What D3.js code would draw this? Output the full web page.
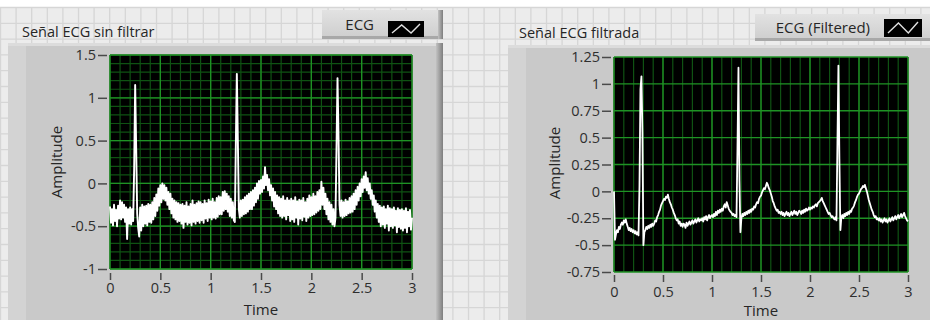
<!DOCTYPE html>
<html>
<head>
<meta charset="utf-8">
<script src="https://cdn.jsdelivr.net/npm/d3@7"></script>
<style>
  body { margin: 0; background: #fff; }
  svg { display: block; font-family: "Open Sans", sans-serif; }
</style>
</head>
<body>
<script>
const W = 930, H = 320;

// sample spacing of both waveforms (s)
const dt = 0.01;

// raw ECG, one value every 10 ms from 0 to 3 s
const rawEcg = [
  -0.27, -0.46, -0.30, -0.49, -0.25, -0.44, -0.31, -0.50, -0.26, -0.41,
  -0.20, -0.42, -0.22, -0.40, -0.25, -0.45, -0.28, -0.65, -0.30, -0.47,
  -0.28, -0.48, -0.30, -0.44, 0.17, 1.15, 0.42, -0.35, -0.52, -0.62,
  -0.28, -0.55, -0.25, -0.50, -0.27, -0.47, -0.26, -0.49, -0.24, -0.45,
  -0.25, -0.46, -0.22, -0.42, -0.17, -0.38, -0.13, -0.32, -0.06, -0.26,
  -0.02, -0.22, 0.00, -0.18, -0.02, -0.20, -0.05, -0.25, -0.10, -0.30,
  -0.12, -0.35, -0.18, -0.40, -0.20, -0.42, -0.22, -0.45, -0.23, -0.44,
  -0.25, -0.47, -0.24, -0.52, -0.26, -0.45, -0.22, -0.48, -0.27, -0.46,
  -0.24, -0.49, -0.20, -0.45, -0.25, -0.47, -0.23, -0.44, -0.21, -0.46,
  -0.22, -0.43, -0.24, -0.46, -0.20, -0.41, -0.23, -0.44, -0.19, -0.40,
  -0.21, -0.42, -0.18, -0.40, -0.22, -0.41, -0.17, -0.39, -0.15, -0.36,
  -0.16, -0.36, -0.10, -0.32, -0.09, -0.30, -0.12, -0.33, -0.15, -0.38,
  -0.18, -0.40, -0.22, -0.43, -0.45, 0.45, 1.28, 0.50, -0.30, -0.40,
  -0.20, -0.38, -0.19, -0.36, -0.16, -0.35, -0.14, -0.33, -0.12, -0.30,
  -0.10, -0.30, -0.08, -0.26, -0.05, -0.22, 0.00, -0.18, 0.03, -0.12,
  0.04, -0.10, 0.08, -0.06, 0.19, -0.02, 0.10, -0.08, 0.05, -0.14,
  -0.02, -0.20, -0.06, -0.27, -0.10, -0.30, -0.14, -0.35, -0.16, -0.38,
  -0.18, -0.40, -0.15, -0.38, -0.20, -0.42, -0.17, -0.37, -0.20, -0.44,
  -0.18, -0.42, -0.20, -0.45, -0.16, -0.40, -0.21, -0.48, -0.19, -0.41,
  -0.20, -0.43, -0.17, -0.39, -0.22, -0.44, -0.18, -0.40, -0.14, -0.38,
  -0.16, -0.37, -0.12, -0.36, -0.15, -0.34, -0.10, -0.32, -0.08, -0.30,
  0.02, -0.25, -0.05, -0.30, -0.12, -0.36, -0.18, -0.42, -0.22, -0.45,
  -0.25, -0.48, -0.30, -0.50, -0.40, 0.40, 1.23, 0.55, -0.25, -0.38,
  -0.20, -0.40, -0.22, -0.38, -0.19, -0.37, -0.21, -0.35, -0.17, -0.34,
  -0.15, -0.33, -0.12, -0.30, -0.08, -0.25, -0.04, -0.20, 0.00, -0.15,
  0.05, -0.10, 0.08, -0.05, 0.13, -0.08, 0.06, -0.12, 0.00, -0.18,
  -0.08, -0.25, -0.14, -0.33, -0.20, -0.40, -0.24, -0.45, -0.26, -0.50,
  -0.28, -0.48, -0.27, -0.52, -0.30, -0.47, -0.26, -0.55, -0.29, -0.50,
  -0.30, -0.52, -0.28, -0.49, -0.32, -0.57, -0.29, -0.51, -0.31, -0.53,
  -0.30, -0.55, -0.32, -0.52, -0.29, -0.57, -0.33, -0.50, -0.31, -0.54,
  -0.40
];

// filtered ECG, same sampling
const filteredEcg = [
  0.00, -0.45, -0.40, -0.36, -0.38, -0.33, -0.35, -0.31, -0.29, -0.31,
  -0.27, -0.29, -0.26, -0.30, -0.33, -0.36, -0.34, -0.37, -0.35, -0.38,
  -0.36, -0.39, -0.37, -0.40, -0.38, -0.41, 0.05, 0.95, 1.07, 0.55,
  -0.50, -0.38, -0.36, -0.33, -0.35, -0.32, -0.34, -0.31, -0.33, -0.30,
  -0.32, -0.30, -0.27, -0.28, -0.24, -0.22, -0.19, -0.17, -0.13, -0.11,
  -0.09, -0.07, -0.08, -0.05, -0.06, -0.03, -0.07, -0.10, -0.12, -0.15,
  -0.17, -0.20, -0.22, -0.25, -0.27, -0.26, -0.30, -0.28, -0.32, -0.30,
  -0.33, -0.30, -0.31, -0.34, -0.29, -0.32, -0.30, -0.28, -0.31, -0.29,
  -0.27, -0.30, -0.28, -0.26, -0.29, -0.27, -0.25, -0.28, -0.26, -0.27,
  -0.25, -0.28, -0.24, -0.26, -0.23, -0.27, -0.24, -0.22, -0.25, -0.23,
  -0.22, -0.24, -0.21, -0.23, -0.19, -0.22, -0.18, -0.20, -0.17, -0.19,
  -0.16, -0.18, -0.14, -0.12, -0.15, -0.10, -0.13, -0.16, -0.18, -0.19,
  -0.20, -0.22, -0.21, -0.23, -0.22, -0.24, 0.40, 1.15, 0.10, -0.38,
  -0.25, -0.21, -0.23, -0.20, -0.22, -0.19, -0.21, -0.18, -0.20, -0.17,
  -0.19, -0.16, -0.17, -0.14, -0.15, -0.12, -0.10, -0.11, -0.07, -0.05,
  -0.04, -0.01, 0.01, 0.03, 0.02, 0.05, 0.08, 0.06, 0.03, 0.01,
  -0.02, -0.05, -0.09, -0.11, -0.14, -0.16, -0.18, -0.17, -0.20, -0.19,
  -0.21, -0.19, -0.22, -0.20, -0.23, -0.21, -0.19, -0.22, -0.20, -0.23,
  -0.21, -0.19, -0.22, -0.20, -0.18, -0.21, -0.19, -0.22, -0.20, -0.18,
  -0.19, -0.21, -0.18, -0.20, -0.17, -0.19, -0.16, -0.18, -0.17, -0.15,
  -0.17, -0.15, -0.16, -0.14, -0.15, -0.13, -0.12, -0.14, -0.11, -0.10,
  -0.09, -0.08, -0.06, -0.09, -0.11, -0.13, -0.15, -0.17, -0.19, -0.21,
  -0.20, -0.22, -0.24, -0.23, -0.25, -0.26, -0.24, -0.27, 0.45, 1.17,
  0.30, -0.36, -0.24, -0.22, -0.25, -0.21, -0.23, -0.20, -0.22, -0.19,
  -0.21, -0.18, -0.19, -0.16, -0.15, -0.13, -0.10, -0.08, -0.05, -0.03,
  -0.02, 0.00, 0.02, 0.03, 0.05, 0.04, 0.06, 0.03, 0.00, -0.04,
  -0.08, -0.11, -0.14, -0.17, -0.19, -0.22, -0.24, -0.23, -0.26, -0.25,
  -0.27, -0.25, -0.28, -0.26, -0.29, -0.27, -0.25, -0.28, -0.26, -0.29,
  -0.27, -0.25, -0.28, -0.26, -0.24, -0.27, -0.25, -0.23, -0.26, -0.24,
  -0.22, -0.25, -0.23, -0.21, -0.24, -0.22, -0.20, -0.23, -0.25, -0.27,
  -0.28
];

const timeTicks = [0, 0.5, 1, 1.5, 2, 2.5, 3];
const rawAmpTicks = [-1, -0.5, 0, 0.5, 1, 1.5];
const filtAmpTicks = [-0.75, -0.5, -0.25, 0, 0.25, 0.5, 0.75, 1, 1.25];
const titles = ['Señal ECG sin filtrar', 'Señal ECG filtrada'];
const legendNames = ['ECG', 'ECG (Filtered)'];

const svg = d3.select('body').append('svg')
  .attr('width', W)
  .attr('height', H);

const defs = svg.append('defs');
const shade = defs.append('linearGradient').attr('id', 'shade');
shade.append('stop').attr('offset', '0%').attr('stop-color', '#c2c2c2');
shade.append('stop').attr('offset', '100%').attr('stop-color', '#7e7e7e');
const lgFill = defs.append('linearGradient').attr('id', 'lgfill')
  .attr('x1', 0).attr('x2', 0).attr('y1', 0).attr('y2', 1);
lgFill.append('stop').attr('offset', '0%').attr('stop-color', '#e2e2e2');
lgFill.append('stop').attr('offset', '100%').attr('stop-color', '#cdcdcd');

// front panel background with its light grid
svg.append('rect').attr('width', W).attr('height', H).attr('fill', '#fff');
svg.append('rect').attr('y', 8).attr('width', W).attr('height', H - 8).attr('fill', '#ececec');
const bg = svg.append('g').attr('stroke', '#d6d6d6').attr('stroke-width', 1.3);
d3.range(0.5, W, 15.6).forEach(x => {
  bg.append('line').attr('x1', x).attr('x2', x).attr('y1', 8).attr('y2', H);
});
d3.range(7.5, H, 15.8).forEach(y => {
  bg.append('line').attr('x1', 0).attr('x2', W).attr('y1', y).attr('y2', y);
});

const graphs = [
  {
    title: titles[0], legend: legendNames[0], data: rawEcg,
    yTicks: rawAmpTicks, yDomain: [-1, 1.5], yMinor: 0.1, xMinor: 0.1, hMinor: true,
    frame: [8, 43, 435], plot: [110, 412, 55, 269],
    titleX: 22, titleY: 37, legendBox: [322, 10, 121, 29], icon: [388, 21, 36, 16],
    yAxisX: 107, xAxisGap: 4, xTickPad: 3, ampX: 62, ampY: 162, timeY: 315
  },
  {
    title: titles[1], legend: legendNames[1], data: filteredEcg,
    yTicks: filtAmpTicks, yDomain: [-0.75, 1.25], yMinor: 0.25, xMinor: 0.1, hMinor: false,
    frame: [508, 45, 430], plot: [614, 908, 57, 272],
    titleX: 519, titleY: 38, legendBox: [755, 14, 180, 27], icon: [884, 19, 38, 18],
    yAxisX: 611, xAxisGap: 3, xTickPad: 5, ampX: 560, ampY: 163, timeY: 316
  }
];

graphs.forEach(g => {
  const [fx, fy, fw] = g.frame;
  const [px0, px1, py0, py1] = g.plot;

  // graph frame
  const fr = svg.append('g');
  fr.append('rect').attr('x', fx).attr('y', fy).attr('width', fw).attr('height', H - fy + 5)
    .attr('fill', '#c9c9c9');
  fr.append('rect').attr('x', fx).attr('y', fy).attr('width', 18).attr('height', H - fy + 5)
    .attr('fill', '#d3d3d3');
  fr.append('rect').attr('x', fx).attr('y', fy).attr('width', fw).attr('height', 3)
    .attr('fill', '#dcdcdc');
  fr.append('rect').attr('x', fx + fw - 7).attr('y', fy).attr('width', 7).attr('height', H - fy + 5)
    .attr('fill', 'url(#shade)');

  // label above the graph
  svg.append('text').attr('x', g.titleX).attr('y', g.titleY)
    .attr('font-size', 14.5).attr('fill', '#262626').text(g.title);

  // plot legend
  const [lx, ly, lw, lh] = g.legendBox;
  const lg = svg.append('g');
  lg.append('rect').attr('x', lx).attr('y', ly).attr('width', lw).attr('height', lh)
    .attr('fill', 'url(#lgfill)');
  lg.append('rect').attr('x', lx).attr('y', ly + lh - 3).attr('width', lw).attr('height', 3)
    .attr('fill', '#a8a8a8');
  lg.append('rect').attr('x', lx + lw - 5).attr('y', ly).attr('width', 5).attr('height', lh)
    .attr('fill', 'url(#shade)');
  const [ix, iy, iw, ih] = g.icon;
  lg.append('text').attr('x', ix - 14).attr('y', ly + lh / 2 + 5)
    .attr('text-anchor', 'end').attr('font-size', 15).attr('fill', '#262626').text(g.legend);
  lg.append('rect').attr('x', ix).attr('y', iy).attr('width', iw).attr('height', ih)
    .attr('fill', '#000');
  lg.append('path')
    .attr('d', `M${ix + 4},${iy + ih - 4} L${ix + iw * 0.38},${iy + 4} L${ix + iw * 0.64},${iy + ih - 4} L${ix + iw - 4},${iy + 3}`)
    .attr('fill', 'none').attr('stroke', '#e0e0e0').attr('stroke-width', 1.4);

  // scales
  const x = d3.scaleLinear().domain([0, 3]).range([px0, px1]);
  const y = d3.scaleLinear().domain(g.yDomain).range([py1, py0]);

  svg.append('rect').attr('x', px0).attr('y', py0)
    .attr('width', px1 - px0).attr('height', py1 - py0).attr('fill', '#000');

  const grid = svg.append('g');
  // minor grid
  d3.range(0, 3.0001, g.xMinor).forEach(t => {
    grid.append('line').attr('x1', x(t)).attr('x2', x(t)).attr('y1', py0).attr('y2', py1)
      .attr('stroke', '#0f5213').attr('stroke-width', 1.2);
  });
  if (g.hMinor) {
    d3.range(g.yDomain[0], g.yDomain[1] + 0.0001, g.yMinor).forEach(v => {
      grid.append('line').attr('x1', px0).attr('x2', px1).attr('y1', y(v)).attr('y2', y(v))
        .attr('stroke', '#0f5213').attr('stroke-width', 1.2);
    });
  }
  // major grid
  timeTicks.forEach(t => {
    grid.append('line').attr('x1', x(t)).attr('x2', x(t)).attr('y1', py0).attr('y2', py1)
      .attr('stroke', '#1f9325').attr('stroke-width', 1.3);
  });
  g.yTicks.forEach(v => {
    grid.append('line').attr('x1', px0).attr('x2', px1).attr('y1', y(v)).attr('y2', y(v))
      .attr('stroke', '#1f9325').attr('stroke-width', 1.3);
  });

  // waveform
  const line = d3.line()
    .x((d, i) => x(i * dt))
    .y(d => y(d));
  svg.append('path').datum(g.data)
    .attr('d', line)
    .attr('fill', 'none')
    .attr('stroke', '#ffffff')
    .attr('stroke-width', g.hMinor ? 1.9 : 1.8)
    .attr('stroke-linejoin', 'round');

  // axes
  const yAxis = d3.axisLeft(y).tickValues(g.yTicks).tickSize(9).tickPadding(2)
    .tickFormat(d => String(d));
  const ya = svg.append('g').attr('transform', `translate(${g.yAxisX},0)`).call(yAxis);

  const xAxis = d3.axisBottom(x).tickValues(timeTicks).tickSize(7).tickPadding(g.xTickPad)
    .tickFormat(d => String(d));
  const xa = svg.append('g').attr('transform', `translate(0,${py1 + g.xAxisGap})`).call(xAxis);

  [ya, xa].forEach(a => {
    a.select('.domain').remove();
    a.selectAll('.tick line').attr('stroke', '#4a4a4a').attr('stroke-width', 1.5);
    a.selectAll('.tick text').attr('fill', '#2e2e2e').attr('font-size', 14.5)
      .attr('font-family', '"Open Sans", sans-serif');
  });

  svg.append('text').attr('x', (px0 + px1) / 2).attr('y', g.timeY)
    .attr('text-anchor', 'middle').attr('font-size', 15).attr('fill', '#262626').text('Time');
  svg.append('text')
    .attr('transform', `translate(${g.ampX},${g.ampY}) rotate(-90)`)
    .attr('text-anchor', 'middle').attr('font-size', 15).attr('fill', '#262626').text('Amplitude');
});
</script>
</body>
</html>
